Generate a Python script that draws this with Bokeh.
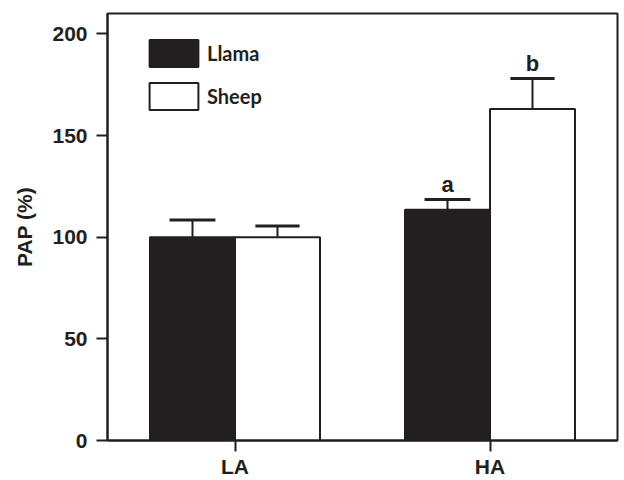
from bokeh.plotting import figure
from bokeh.models import (ColumnDataSource, Range1d, FixedTicker, Legend, LegendItem)
from bokeh.core.properties import value
from bokeh.embed import file_html
from bokeh.resources import INLINE

# ---- data ----
groups = ["LA", "HA"]
llama = [100, 113.5]
llama_err = [108.5, 118.5]
sheep = [100, 163]
sheep_err = [105.5, 178]
llama_sig = ["", "a"]
sheep_sig = ["", "b"]
y_ticks = [0, 50, 100, 150, 200]

DARK = "#231f20"
FONT = "Liberation Sans"
group_centers = [1.5 + 3 * i for i in range(len(groups))]

p = figure(width=620, height=480, output_backend="svg", toolbar_location=None,
           x_range=Range1d(0, 6), y_range=Range1d(0, 210),
           min_border_left=107, min_border_right=3, min_border_top=13,
           min_border_bottom=39)
p.xgrid.visible = False
p.ygrid.visible = False
p.outline_line_color = DARK
p.outline_line_width = 2
p.outline_line_alpha = 1

lx = [c - 0.5 for c in group_centers]
sx = [c + 0.5 for c in group_centers]

src_l = ColumnDataSource(dict(x=lx, top=llama, err=llama_err, sig=llama_sig,
                              cl=[x - 0.27 for x in lx], cr=[x + 0.27 for x in lx]))
src_s = ColumnDataSource(dict(x=sx, top=sheep, err=sheep_err, sig=sheep_sig,
                              cl=[x - 0.26 for x in sx], cr=[x + 0.26 for x in sx]))

for src in (src_l, src_s):
    p.segment(x0="x", y0="top", x1="x", y1="err", source=src, line_color=DARK, line_width=2)
    p.segment(x0="cl", y0="err", x1="cr", y1="err", source=src, line_color=DARK, line_width=3)
    p.text(x="x", y="err", text="sig", source=src, text_align="center",
           text_baseline="bottom", y_offset=-3, text_font=value(FONT),
           text_font_style="bold", text_font_size="22px", text_color=DARK)

rl = p.vbar(x="x", top="top", bottom=0, width=1.0, source=src_l,
            fill_color=DARK, line_color=DARK, line_width=2)
rs = p.vbar(x="x", top="top", bottom=0, width=1.0, source=src_s,
            fill_color="white", line_color=DARK, line_width=2)

legend = Legend(items=[LegendItem(label="Llama", renderers=[rl]),
                       LegendItem(label="Sheep", renderers=[rs])],
                location=(36, 327), glyph_width=61, glyph_height=34,
                spacing=9, padding=0, margin=0, label_standoff=3,
                border_line_color=None, background_fill_alpha=0,
                label_text_font="Lato", label_text_font_style="bold",
                label_text_font_size="20px", label_text_color=DARK,
                label_height=34)
p.add_layout(legend)

for ax in (p.xaxis[0], p.yaxis[0]):
    ax.axis_line_color = DARK
    ax.axis_line_width = 2
    ax.major_tick_line_color = DARK
    ax.major_tick_line_width = 2
    ax.major_tick_out = 11
    ax.major_tick_in = 0
    ax.minor_tick_line_color = None
    ax.major_label_text_font = FONT
    ax.major_label_text_font_style = "bold"
    ax.major_label_text_font_size = "21px"
    ax.major_label_text_color = DARK

p.xaxis.ticker = FixedTicker(ticks=group_centers)
p.xaxis.major_label_overrides = {c: g for c, g in zip(group_centers, groups)}
p.xaxis.major_label_standoff = 3
p.yaxis.ticker = FixedTicker(ticks=y_ticks)
p.yaxis.major_label_standoff = 9
p.yaxis.axis_label = "PAP (%)"
p.yaxis.axis_label_text_font = FONT
p.yaxis.axis_label_text_font_style = "bold"
p.yaxis.axis_label_text_font_size = "21px"
p.yaxis.axis_label_text_color = DARK
p.yaxis.axis_label_standoff = 13

open("out.html", "w").write(file_html(p, INLINE))
